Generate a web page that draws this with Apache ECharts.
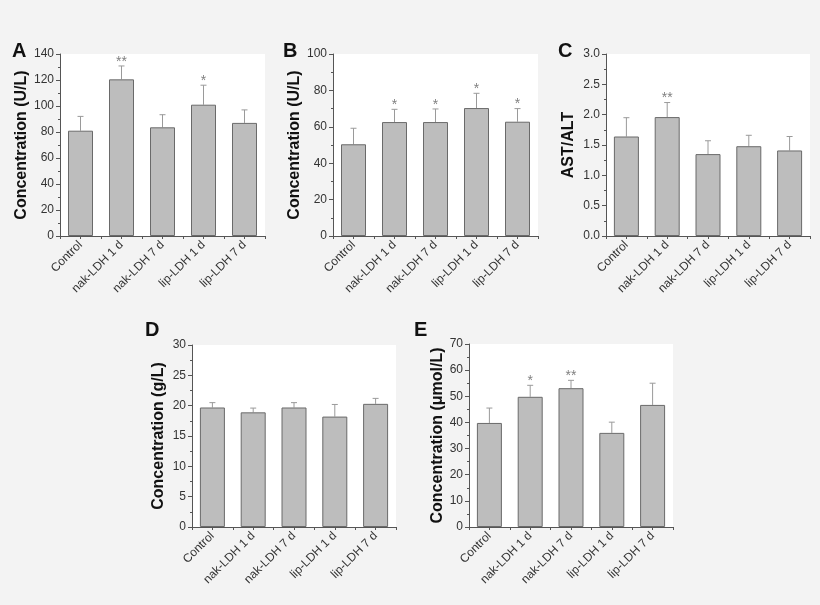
<!DOCTYPE html>
<html>
<head>
<meta charset="utf-8">
<script src="https://cdn.jsdelivr.net/npm/echarts@6/dist/echarts.min.js"></script>
<style>
html,body{margin:0;padding:0;background:#f3f3f3;}
#c{width:820px;height:605px;}
</style>
</head>
<body>
<div id="c"></div>
<script>
const categories = ['Control', 'nak-LDH 1 d', 'nak-LDH 7 d', 'lip-LDH 1 d', 'lip-LDH 7 d'];

const aMean = [81, 120.5, 83.6, 101, 87];
const aErr = [11, 10.3, 9.7, 15, 10];
const aStars = ['', '**', '', '*', ''];

const bMean = [50.4, 62.6, 62.6, 70.3, 62.8];
const bErr = [8.8, 7, 7.2, 8.1, 7.2];
const bStars = ['', '*', '*', '*', '*'];

const cMean = [1.64, 1.96, 1.35, 1.48, 1.41];
const cErr = [0.31, 0.24, 0.22, 0.18, 0.23];
const cStars = ['', '**', '', '', ''];

const dMean = [19.7, 18.9, 19.7, 18.2, 20.3];
const dErr = [0.8, 0.7, 0.8, 2.0, 0.9];
const dStars = ['', '', '', '', ''];

const eMean = [39.8, 49.8, 53.1, 36, 46.7];
const eErr = [5.7, 4.4, 3.0, 4.1, 8.3];
const eStars = ['', '*', '**', '', ''];

const yTicksA = {min: 0, max: 140, interval: 20};
const yTicksB = {min: 0, max: 100, interval: 20};
const yTicksC = {min: 0, max: 3, interval: 0.5};
const yTicksD = {min: 0, max: 30, interval: 5};
const yTicksE = {min: 0, max: 70, interval: 10};

const panels = [
  {letter: 'A', mean: aMean, err: aErr, stars: aStars, ticks: yTicksA, title: 'Concentration (U/L)', grid: {left: 60, top: 54, width: 205, height: 182}, gap: 29, lx: 12, ly: 41, dec: 0},
  {letter: 'B', mean: bMean, err: bErr, stars: bStars, ticks: yTicksB, title: 'Concentration (U/L)', grid: {left: 333, top: 54, width: 205, height: 182}, gap: 27, lx: 283, ly: 41, dec: 0},
  {letter: 'C', mean: cMean, err: cErr, stars: cStars, ticks: yTicksC, title: 'AST/ALT', grid: {left: 606, top: 54, width: 204, height: 182}, gap: 29, lx: 558, ly: 41, dec: 1},
  {letter: 'D', mean: dMean, err: dErr, stars: dStars, ticks: yTicksD, title: 'Concentration (g/L)', grid: {left: 192, top: 345, width: 204, height: 182}, gap: 25, lx: 145, ly: 320, dec: 0},
  {letter: 'E', mean: eMean, err: eErr, stars: eStars, ticks: yTicksE, title: 'Concentration (\u03bcmol/L)', grid: {left: 469, top: 344, width: 204, height: 183}, gap: 22, lx: 414, ly: 320, dec: 0}
];

const FONT = 'Liberation Sans, Arial, sans-serif';
const grids = [], xAxes = [], yAxes = [], series = [], graphics = [];

panels.forEach((p, i) => {
  grids.push(Object.assign({show: true, backgroundColor: '#ffffff', borderWidth: 0}, p.grid));
  xAxes.push({
    type: 'category', gridIndex: i, data: categories,
    axisLine: {lineStyle: {color: '#555', width: 1}},
    axisTick: {show: true, alignWithLabel: true, length: 3, lineStyle: {color: '#555'}},
    axisLabel: {rotate: 45, interval: 0, fontSize: 12, color: '#333', fontFamily: FONT, margin: 7}
  });
  yAxes.push({
    type: 'value', gridIndex: i, min: p.ticks.min, max: p.ticks.max, interval: p.ticks.interval,
    name: p.title, nameLocation: 'middle', nameGap: p.gap, nameRotate: 90,
    nameTextStyle: {fontSize: 16, fontWeight: 'bold', color: '#111', fontFamily: FONT},
    axisLine: {show: true, lineStyle: {color: '#555', width: 1}},
    axisTick: {show: true, length: 4, lineStyle: {color: '#555'}},
    minorTick: {show: true, splitNumber: 2, length: 2, lineStyle: {color: '#555'}},
    splitLine: {show: false},
    axisLabel: {fontSize: 12, color: '#333', fontFamily: FONT, margin: 6,
      formatter: v => v.toFixed(p.dec)}
  });
  series.push({
    type: 'bar', xAxisIndex: i, yAxisIndex: i, data: p.mean, barWidth: 25,
    itemStyle: {color: '#bdbdbd', borderColor: '#6a6a6a', borderWidth: 1},
    silent: true, animation: false
  });
  const errData = p.mean.map((m, k) => [k, m, m + p.err[k], p.stars[k]]);
  series.push({
    type: 'custom', xAxisIndex: i, yAxisIndex: i, data: errData, animation: false, silent: true,
    renderItem: (params, api) => {
      const x = api.value(0);
      const base = api.coord([x, api.value(1)]);
      const top = api.coord([x, api.value(2)]);
      const children = [
        {type: 'line', shape: {x1: base[0], y1: base[1], x2: top[0], y2: top[1]}, style: {stroke: '#9a9a9a', lineWidth: 1}},
        {type: 'line', shape: {x1: top[0] - 3, y1: top[1], x2: top[0] + 3, y2: top[1]}, style: {stroke: '#9a9a9a', lineWidth: 1}}
      ];
      const s = errData[params.dataIndex][3];
      if (s) {
        children.push({type: 'text', x: top[0], y: top[1] + 3, style: {text: s, fill: '#808080', fontSize: 14, fontFamily: FONT, align: 'center', verticalAlign: 'bottom'}});
      }
      return {type: 'group', children: children};
    }
  });
  graphics.push({type: 'text', left: p.lx, top: p.ly, style: {text: p.letter, fontSize: 20, fontWeight: 'bold', fill: '#111', fontFamily: FONT}});
});

// boundary ticks on each x axis (overlaid second category axis, no labels/line)
panels.forEach((p, i) => {
  xAxes.push({
    type: 'category', gridIndex: i, data: categories, position: 'bottom',
    axisLine: {show: false},
    axisTick: {show: true, alignWithLabel: false, interval: 0, length: 3, lineStyle: {color: '#555'}},
    axisLabel: {show: false}
  });
});

const chart = echarts.init(document.getElementById('c'));
chart.setOption({
  backgroundColor: '#f3f3f3',
  animation: false,
  grid: grids, xAxis: xAxes, yAxis: yAxes, series: series, graphic: graphics
});
</script>
</body>
</html>
